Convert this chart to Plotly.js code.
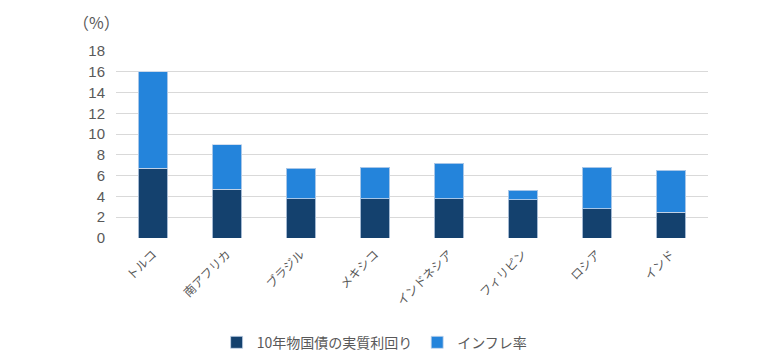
<!DOCTYPE html>
<html>
<head>
<meta charset="utf-8">
<script src="https://cdn.plot.ly/plotly-3.0.1.min.js"></script>
<style>html,body{margin:0;padding:0;background:#fff;}#chart{width:780px;height:358px;}</style>
</head>
<body>
<div id="chart"></div>
<script>
const categories = ["トルコ", "南アフリカ", "ブラジル", "メキシコ", "インドネシア", "フィリピン", "ロシア", "インド"];
const realYield = [6.7, 4.7, 3.8, 3.8, 3.8, 3.7, 2.8, 2.5];
const inflation = [9.3, 4.3, 2.9, 3.0, 3.4, 0.9, 4.0, 4.0];
const seriesNames = ["10年物国債の実質利回り", "インフレ率"];
const yTicks = [0, 2, 4, 6, 8, 10, 12, 14, 16, 18];

const FONT = "Liberation Sans, Arial, 'Noto Sans CJK JP', sans-serif";
const traces = [
  {type: "bar", name: seriesNames[0], x: categories, y: realYield, width: 0.4,
   marker: {color: "#14416e", line: {color: "rgba(200,215,235,0.8)", width: 1}}},
  {type: "bar", name: seriesNames[1], x: categories, y: inflation, width: 0.4,
   marker: {color: "#2484db", line: {color: "rgba(200,215,235,0.8)", width: 1}}}
];
const layout = {
  width: 780, height: 358,
  barmode: "stack",
  margin: {l: 116, r: 72, t: 51, b: 120, autoexpand: false},
  paper_bgcolor: "#fff", plot_bgcolor: "#fff",
  font: {family: FONT, color: "#595959", size: 14},
  showlegend: true,
  legend: {orientation: "h", x: 0.17, xanchor: "left", y: -0.56, yanchor: "middle",
           font: {size: 14, color: "#595959", family: "'Noto Sans CJK JP', sans-serif"},
           itemwidth: 30, traceorder: "normal", tracegroupgap: 0},
  xaxis: {tickangle: -45, tickfont: {size: 12, color: "#595959", family: "'Noto Sans CJK JP', sans-serif"},
          showline: false, ticks: "", showgrid: false, automargin: false, ticklabelstandoff: 6},
  yaxis: {range: [0, 18], tickvals: yTicks, ticktext: yTicks.map(String), showgrid: true,
          gridcolor: "#d9d9d9", gridwidth: 1, zeroline: false, ticks: "", automargin: false,
          tickfont: {size: 15, color: "#595959"}, ticklabelstandoff: 10},
  annotations: [{text: "（%）", xref: "paper", yref: "paper", x: -0.033, y: 1.08,
                 xanchor: "center", yanchor: "bottom", showarrow: false,
                 font: {size: 16, color: "#595959", family: "'Noto Sans CJK JP', sans-serif"}}]
};
Plotly.newPlot("chart", traces, layout, {displayModeBar: false, staticPlot: true});
</script>
</body>
</html>
